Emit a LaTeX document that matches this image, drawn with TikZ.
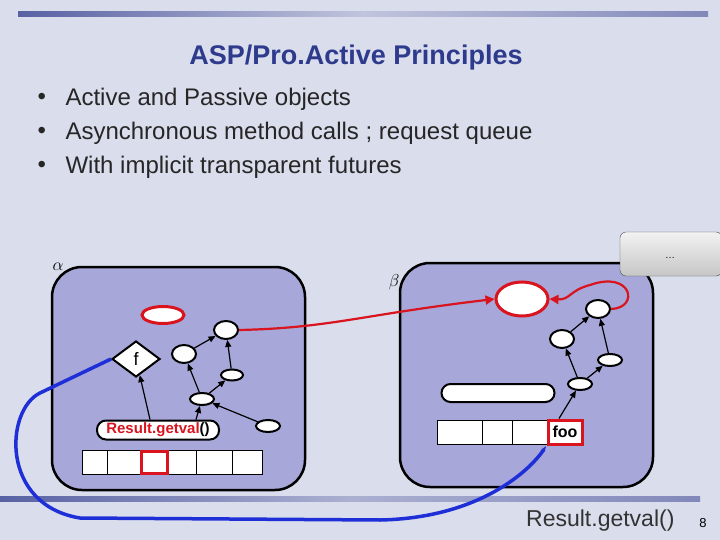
\documentclass[tikz,border=0pt]{standalone}
\usepackage{fontspec}
\setmainfont{Liberation Sans}
\usetikzlibrary{shapes.geometric,arrows.meta}
\definecolor{bg}{HTML}{D9DDEC}
\definecolor{ao}{HTML}{A7A7D9}
\definecolor{ttl}{HTML}{2E3A8C}
\definecolor{rd}{HTML}{D9141E}
\definecolor{bl}{HTML}{1F2FD8}
\tikzset{
 obj/.style={draw=black,line width=2.5pt,fill=ao,rounded corners=30pt},
 ob/.style={ellipse,draw=black,line width=2pt,fill=white,inner sep=0pt},
 arr/.style={-{Triangle[length=7pt,width=6pt]},line width=1.2pt},
 cell/.style={draw=black,fill=white,line width=0.6pt},
 btxt/.style={anchor=west,font=\fontsize{24}{26}\selectfont,text=black!85},
}
\begin{document}
\begin{tikzpicture}[x=1pt,y=-1pt]
\useasboundingbox (0,0) rectangle (720,540);
\fill[bg] (0,0) rectangle (720,540);
\shade[left color=ttl!80,right color=ttl!60,middle color=ttl!30] (18,12) rectangle (708,17);
\shade[left color=ttl!80,right color=ttl!60,middle color=ttl!40] (0,496) rectangle (700,501);
\node[font=\bfseries\fontsize{27}{29}\selectfont,text=ttl] (title) at (356,58) {ASP/Pro.Active Principles};
\foreach \y/\t [count=\i] in {99/Active and Passive objects,133/Asynchronous method calls ; request queue,167/With implicit transparent futures}{
 \node[btxt] (bul\i) at (34,\y) {•};
 \node[btxt] (b\i) at (62,\y) {\t};
}
% objects
\draw[obj] (52,267) rectangle (305,490);
\draw[obj] (400,263) rectangle (653,487);
\node[font=\fontsize{16}{16}\selectfont] (alpha) at (58,267) {$\alpha$};
\node[font=\fontsize{16}{16}\selectfont] (beta) at (394,282) {$\beta$};
\shade[top color=gray!10,bottom color=gray!45,draw=black!70,rounded corners=6pt] (620,232) rectangle (722,276);
\node (dots) at (670,258) {\dots};
% alpha
\node[ellipse,draw=rd,line width=3pt,fill=white,minimum width=42pt,minimum height=17pt] (fut) at (163,315) {};
\node[ob,minimum width=24pt,minimum height=18pt] (A) at (226,330) {};
\node[ob,minimum width=24pt,minimum height=18pt] (B) at (184,354) {};
\node[ob,minimum width=22pt,minimum height=11pt] (C) at (232,375) {};
\node[ob,minimum width=24pt,minimum height=12pt] (D) at (202,399) {};
\node[ob,minimum width=24pt,minimum height=12pt] (E) at (268,426) {};
\node[diamond,draw=black,line width=2pt,fill=white,minimum width=48pt,minimum height=36pt,inner sep=0pt,font=\fontsize{18}{18}\selectfont] (f) at (136,359) {f};
\node[draw=black,line width=2pt,fill=white,rounded corners=9pt,minimum width=122pt,minimum height=19pt,inner sep=0pt,font=\bfseries\fontsize{15}{15}\selectfont] (res) at (158,430) {\textcolor{rd}{Result.getval}()};
\foreach \a/\b in {82/107,107/140,140/168,168/196,196/232,232/262}
  \node[cell,minimum width=\b pt-\a pt,minimum height=24pt,inner sep=0pt] (qa\a) at ({(\a+\b)/2},462) {};
\draw[rd,line width=3pt] (141,451) rectangle (167,473);
\draw[arr] (B) -- (A);
\draw[arr] (C) -- (A);
\draw[arr] (D) -- (B);
\draw[arr] (D) -- (C);
\draw[arr] (E) -- (D);
\draw[arr] ([xshift=-8pt]res.north) -- (f);
\draw[arr] ([xshift=38pt]res.north) -- (D);
% beta
\node[ellipse,draw=rd,line width=3pt,fill=white,minimum width=52pt,minimum height=34pt] (bfut) at (522,299) {};
\node[ob,minimum width=24pt,minimum height=18pt] (P) at (598,309) {};
\node[ob,minimum width=24pt,minimum height=18pt] (Q) at (562,339) {};
\node[ob,minimum width=24pt,minimum height=12pt] (R) at (610,360) {};
\node[ob,minimum width=24pt,minimum height=12pt] (S) at (580,384) {};
\node[draw=black,line width=2pt,fill=white,rounded corners=9pt,minimum width=113pt,minimum height=18pt,inner sep=0pt] (bar) at (498,393) {};
\foreach \a/\b in {437/482,482/512,512/548}
  \node[cell,minimum width=\b pt-\a pt,minimum height=24pt,inner sep=0pt] (qb\a) at ({(\a+\b)/2},432) {};
\node[draw=rd,line width=3pt,fill=white,minimum width=34pt,minimum height=24pt,inner sep=0pt,font=\bfseries\fontsize{16}{16}\selectfont] (foo) at (565,432) {foo};
\draw[arr] (Q) -- (P);
\draw[arr] (R) -- (P);
\draw[arr] (S) -- (Q);
\draw[arr] (S) -- (R);
\draw[arr] ([xshift=-6pt]foo.north) -- (S);
% red curves
\draw[rd,line width=2.2pt,-{Triangle[length=9pt,width=9pt]}] (A.east) .. controls (330,328) and (360,315) .. (bfut.west);
\draw[rd,line width=2.2pt,-{Triangle[length=9pt,width=9pt]}] (P.east) .. controls (640,308) and (632,270) .. (590,285) .. controls (570,290) and (570,300) .. (bfut.east);
% blue curve
\draw[bl,line width=3.5pt,-{Latex[length=6pt]}] (f.west) -- (40,393) .. controls (5,410) and (0,505) .. (80,518) -- (380,520) .. controls (480,518) and (530,470) .. (foo.south west);
\node[anchor=east,font=\fontsize{23}{25}\selectfont,text=black!80] (rg) at (678,521) {Result.getval()};
\node[font=\fontsize{13}{13}\selectfont] (pg) at (703,523) {8};
\end{tikzpicture}
\end{document}
